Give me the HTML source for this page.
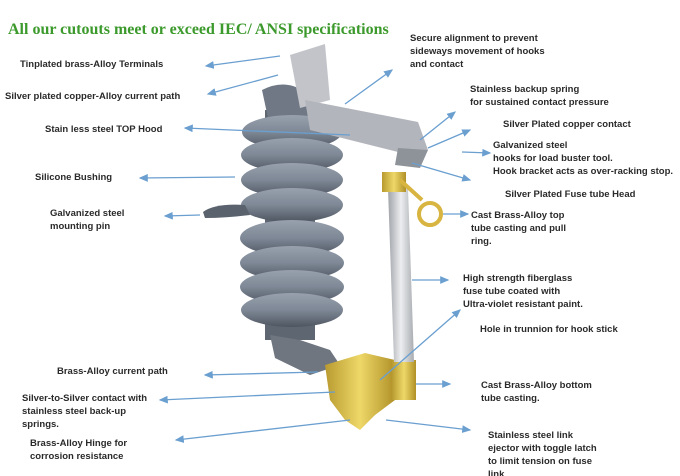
<!DOCTYPE html>
<html><head><meta charset="utf-8"><style>
html,body{margin:0;padding:0;background:#fff}
svg{display:block}
.t{font-family:"Liberation Sans",sans-serif;font-size:9.5px;font-weight:bold;fill:#2a2a2a}
.a{stroke:#6a9fd0;stroke-width:1.3;fill:none;marker-end:url(#ah)}
</style></head><body>
<svg width="680" height="476" viewBox="0 0 680 476" xmlns="http://www.w3.org/2000/svg">
<defs>
<marker id="ah" markerWidth="7" markerHeight="6" refX="6" refY="3" orient="auto"><path d="M0,0L7,3L0,6z" fill="#6a9fd0"/></marker>
<linearGradient id="g" x1="0" x2="0" y1="0" y2="1"><stop offset="0" stop-color="#98a1ad"/><stop offset="0.5" stop-color="#7e8896"/><stop offset="1" stop-color="#4e5560"/></linearGradient>
<linearGradient id="tb" x1="0" x2="1"><stop offset="0" stop-color="#a0a3a8"/><stop offset="0.5" stop-color="#eceef0"/><stop offset="1" stop-color="#a8abb0"/></linearGradient>
<linearGradient id="y" x1="0" x2="1"><stop offset="0" stop-color="#b89a30"/><stop offset="0.5" stop-color="#eed868"/><stop offset="1" stop-color="#b09028"/></linearGradient>
</defs>
<text x="8" y="34" font-family="Liberation Serif,serif" font-size="16" font-weight="bold" fill="#3c9a2c">All our cutouts meet or exceed IEC/ ANSI specifications</text>
<!-- core -->
<rect x="265" y="110" width="50" height="230" fill="#5e6672"/>
<!-- hood -->
<path d="M262,90 Q285,78 305,92 L312,118 Q290,112 268,118 Z" fill="#6f7884"/>
<!-- sheds -->
<g fill="url(#g)">
<ellipse cx="292" cy="132" rx="50" ry="17"/>
<ellipse cx="292" cy="155" rx="51" ry="17"/>
<ellipse cx="292" cy="180" rx="51" ry="17"/>
<ellipse cx="292" cy="205" rx="51" ry="17"/>
<ellipse cx="292" cy="238" rx="52" ry="18"/>
<ellipse cx="292" cy="263" rx="52" ry="17"/>
<ellipse cx="292" cy="287" rx="52" ry="17"/>
<ellipse cx="292" cy="310" rx="51" ry="17"/>
</g>
<path d="M203,212 Q215,203 245,205 L250,215 Q225,218 205,218 Z" fill="#5a626e"/>
<!-- bracket top -->
<path d="M290,55 L325,44 L330,100 L300,108 Z" fill="#c2c4ca"/>
<path d="M305,100 L418,122 L428,150 L398,152 L310,130 Z" fill="#b3b5bc"/>
<path d="M398,148 L428,150 L420,168 L395,165 Z" fill="#8e939a"/>
<!-- lower assembly -->
<path d="M270,335 L300,340 L330,350 L340,365 L310,375 L275,358 Z" fill="#6f7680"/>
<path d="M325,365 L365,353 L395,360 L395,400 L375,415 L360,430 L345,420 L330,400 Z" fill="url(#y)"/>
<rect x="392" y="360" width="24" height="40" fill="url(#y)"/>
<!-- fuse tube -->
<path d="M388,188 L408,188 L414,362 L394,362 Z" fill="url(#tb)"/>
<rect x="382" y="172" width="24" height="20" fill="url(#y)"/>
<path d="M400,180 L422,200" stroke="#d8b440" stroke-width="4"/>
<circle cx="430" cy="214" r="11" fill="none" stroke="#d8b440" stroke-width="4"/>
<!-- labels left -->
<text class="t" x="20" y="67">Tinplated brass-Alloy Terminals</text>
<text class="t" x="5" y="99">Silver plated copper-Alloy current path</text>
<text class="t" x="45" y="132">Stain less steel TOP Hood</text>
<text class="t" x="35" y="180">Silicone Bushing</text>
<text class="t" x="50" y="216">Galvanized steel</text><text class="t" x="50" y="229">mounting pin</text>
<text class="t" x="57" y="374">Brass-Alloy current path</text>
<text class="t" x="22" y="401">Silver-to-Silver contact with</text><text class="t" x="22" y="414">stainless steel back-up</text><text class="t" x="22" y="427">springs.</text>
<text class="t" x="30" y="446">Brass-Alloy Hinge for</text><text class="t" x="30" y="459">corrosion resistance</text>
<!-- labels right -->
<text class="t" x="410" y="41">Secure alignment to prevent</text><text class="t" x="410" y="54">sideways movement of hooks</text><text class="t" x="410" y="67">and contact</text>
<text class="t" x="470" y="92">Stainless backup spring</text><text class="t" x="470" y="105">for sustained contact pressure</text>
<text class="t" x="503" y="127">Silver Plated copper contact</text>
<text class="t" x="493" y="148">Galvanized steel</text><text class="t" x="493" y="161">hooks for load buster tool.</text><text class="t" x="493" y="174">Hook bracket acts as over-racking stop.</text>
<text class="t" x="505" y="197">Silver Plated Fuse tube Head</text>
<text class="t" x="471" y="218">Cast Brass-Alloy top</text><text class="t" x="471" y="231">tube casting and pull</text><text class="t" x="471" y="244">ring.</text>
<text class="t" x="463" y="281">High strength fiberglass</text><text class="t" x="463" y="294">fuse tube coated with</text><text class="t" x="463" y="307">Ultra-violet resistant paint.</text>
<text class="t" x="480" y="332">Hole in trunnion for hook stick</text>
<text class="t" x="481" y="388">Cast Brass-Alloy bottom</text><text class="t" x="481" y="401">tube casting.</text>
<text class="t" x="488" y="438">Stainless steel link</text><text class="t" x="488" y="451">ejector with toggle latch</text><text class="t" x="488" y="464">to limit tension on fuse</text><text class="t" x="488" y="477">link</text>
<!-- arrows left -->
<path class="a" d="M280,56 L206,66"/>
<path class="a" d="M278,75 L208,94"/>
<path class="a" d="M350,135 L185,128"/>
<path class="a" d="M235,177 L140,178"/>
<path class="a" d="M200,215 L165,216"/>
<path class="a" d="M318,372 L205,375"/>
<path class="a" d="M335,392 L160,400"/>
<path class="a" d="M350,420 L176,440"/>
<!-- arrows right: heads at labels -->
<path class="a" d="M345,104 L392,70"/>
<path class="a" d="M420,140 L455,112"/>
<path class="a" d="M428,148 L470,130"/>
<path class="a" d="M462,152 L490,153"/>
<path class="a" d="M412,163 L470,180"/>
<path class="a" d="M443,214 L468,214"/>
<path class="a" d="M412,280 L448,280"/>
<path class="a" d="M380,380 L460,310"/>
<path class="a" d="M416,384 L450,384"/>
<path class="a" d="M386,420 L470,430"/>
</svg>
</body></html>
